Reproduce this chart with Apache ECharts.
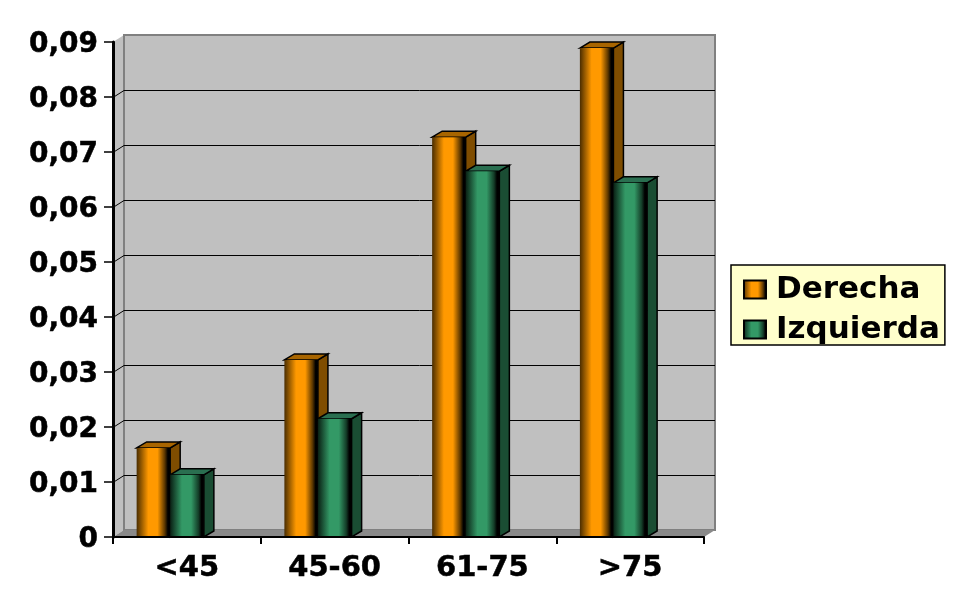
<!DOCTYPE html>
<html>
<head>
<meta charset="utf-8">
<style>html,body{margin:0;padding:0;background:#fff}#c{width:960px;height:612px}</style>
<script src="https://cdn.jsdelivr.net/npm/echarts@6/dist/echarts.min.js"></script>
</head>
<body>
<div id="c"></div>
<script>
const categories = ['<45', '45-60', '61-75', '>75'];
const derecha = [0.0162, 0.0322, 0.0727, 0.0889];
const izquierda = [0.0113, 0.0215, 0.0665, 0.0644];
const yTicks = [0, 0.01, 0.02, 0.03, 0.04, 0.05, 0.06, 0.07, 0.08, 0.09];
const yTickLabels = ['0', '0,01', '0,02', '0,03', '0,04', '0,05', '0,06', '0,07', '0,08', '0,09'];

const FONT = '"DejaVu Sans"';
const WALL = { dx: 11, dy: -7 };
const BAR = { dx: 10, dy: -6, off: [-0.34, -0.113, 0.115] };
const grad = (c, e, d) => new echarts.graphic.LinearGradient(0, 0, 1, 0, [
  { offset: 0, color: e }, { offset: 0.35, color: c }, { offset: 0.62, color: c },
  { offset: 0.84, color: d }, { offset: 0.93, color: '#000' }, { offset: 1, color: '#000' }]);
const orange = { front: grad('#FF9900', '#4a2d00', '#5a3600'), top: '#A86500', side: '#7F4D00' };
const green = { front: grad('#339966', '#0a2014', '#143d28'), top: '#2A6F50', side: '#1A4D33' };

function wallItem(params, api) {
  const g = params.coordSys, x = g.x, y = g.y, w = g.width, h = g.height;
  const dx = WALL.dx, dy = WALL.dy;
  const children = [
    { type: 'polygon', shape: { points: [[x, y], [x + dx, y + dy], [x + dx, y + h + dy], [x, y + h]] },
      style: { fill: '#C0C0C0', stroke: 'none' } },
    { type: 'rect', shape: { x: x + dx, y: y + dy, width: w, height: h },
      style: { fill: '#C0C0C0', stroke: '#808080', lineWidth: 2 } },
    { type: 'polygon', shape: { points: [[x, y + h], [x + dx, y + h + dy], [x + w + dx, y + h + dy], [x + w, y + h]] },
      style: { fill: '#8A8A8A', stroke: 'none' } }
  ];
  return { type: 'group', children };
}
function gridItem(params, api) {
  const g = params.coordSys;
  const yy = Math.round(api.coord([0, api.value(0)])[1]) + 0.5;
  return { type: 'polyline', shape: { points: [[g.x, yy], [g.x + WALL.dx, yy + WALL.dy], [g.x + g.width + WALL.dx, yy + WALL.dy]] },
    style: { fill: 'none', stroke: '#000', lineWidth: 1 } };
}
function barItem(idx, pal) {
  return function (params, api) {
    const cat = api.value(0), v = api.value(1);
    const top = api.coord([cat, v]), base = api.coord([cat, 0]);
    const band = api.size([1, 0])[0];
    const l = top[0] + BAR.off[idx] * band, r = top[0] + BAR.off[idx + 1] * band;
    const t = top[1], b = base[1], dx = BAR.dx, dy = BAR.dy;
    const st = { stroke: '#000', lineWidth: 1.5 };
    return { type: 'group', children: [
      { type: 'polygon', shape: { points: [[r, t], [r + dx, t + dy], [r + dx, b + dy], [r, b]] },
        style: Object.assign({ fill: pal.side }, st) },
      { type: 'polygon', shape: { points: [[l, t], [l + dx, t + dy], [r + dx, t + dy], [r, t]] },
        style: Object.assign({ fill: pal.top }, st) },
      { type: 'rect', shape: { x: l, y: t, width: r - l, height: b - t },
        style: { fill: pal.front, stroke: 'none' } }
    ] };
  };
}

const chart = echarts.init(document.getElementById('c'));
chart.setOption({
  animation: false,
  backgroundColor: '#fff',
  grid: { left: 113, right: 256, top: 42, bottom: 75 },
  xAxis: {
    type: 'category', data: categories, z: 6,
    axisLine: { lineStyle: { color: '#000', width: 2 } },
    axisTick: { show: true, length: 7, lineStyle: { color: '#000', width: 2 } },
    axisLabel: { color: '#000', fontFamily: FONT, fontWeight: 'bold', fontSize: 29, margin: 17, interval: 0,
      textBorderColor: '#000', textBorderWidth: 0.5 },
    splitLine: { show: false }
  },
  yAxis: {
    type: 'value', min: 0, max: 0.09, interval: 0.01, z: 6,
    axisLine: { show: true, lineStyle: { color: '#000', width: 3 } },
    axisTick: { show: true, length: 9, lineStyle: { color: '#000', width: 1.5 } },
    axisLabel: { margin: 15,
      formatter: v => '{a|' + yTickLabels[Math.round(v * 100)] + '}',
      rich: { a: { color: '#000', fontFamily: FONT, fontWeight: 'bold', fontSize: 28, padding: [6, 0, 0, 0],
        textBorderColor: '#000', textBorderWidth: 0.5 } } },
    splitLine: { show: false }
  },
  legend: {
    left: 731, top: 265, orient: 'vertical', align: 'left',
    data: ['Derecha', 'Izquierda'],
    backgroundColor: '#FFFFCC', borderColor: '#000', borderWidth: 1.5,
    padding: [9, 5, 0, 12], itemGap: 9, itemWidth: 22, itemHeight: 18, icon: 'rect',
    textStyle: { color: '#000', fontFamily: FONT, fontWeight: 'bold', fontSize: 31, lineHeight: 25, padding: [0, 0, 0, 5] }
  },
  series: [
    { type: 'custom', name: 'walls', z: 1, silent: true, renderItem: wallItem, data: [[0]], encode: { x: 0 } },
    { type: 'custom', name: 'grid', z: 2, silent: true, renderItem: gridItem, data: yTicks.slice(1, -1).map(v => [v]), encode: { y: 0 } },
    { type: 'custom', name: 'Derecha', z: 3, renderItem: barItem(0, orange),
      itemStyle: { color: orange.front, borderColor: '#000', borderWidth: 0.8 },
      data: derecha.map((v, i) => [i, v]), encode: { x: 0, y: 1 } },
    { type: 'custom', name: 'Izquierda', z: 3, renderItem: barItem(1, green),
      itemStyle: { color: green.front, borderColor: '#000', borderWidth: 0.8 },
      data: izquierda.map((v, i) => [i, v]), encode: { x: 0, y: 1 } }
  ]
});
</script>
</body>
</html>
